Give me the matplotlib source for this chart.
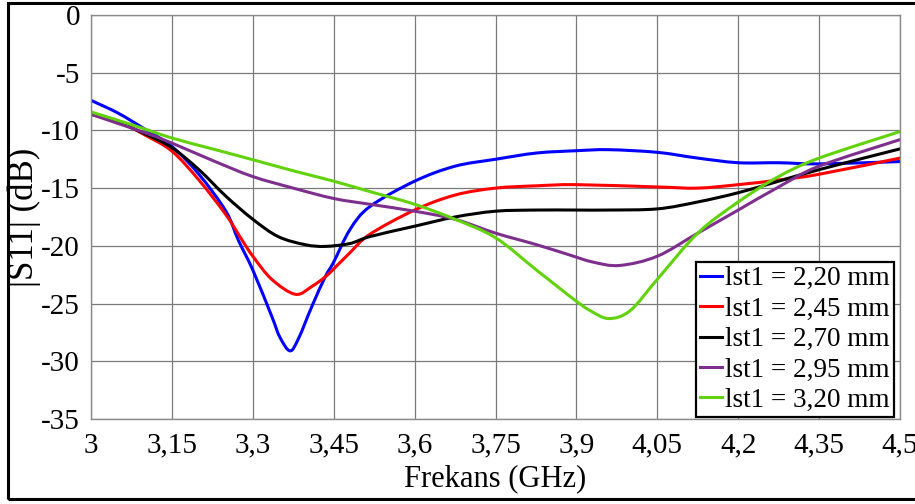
import matplotlib
matplotlib.use("Agg")
import matplotlib.pyplot as plt
from matplotlib.patches import Rectangle, PathPatch
from matplotlib.path import Path
from matplotlib.lines import Line2D

plt.rcParams['font.family'] = ['Liberation Serif', 'DejaVu Serif']

# S11 curves for each lst1 value (frequency in GHz, magnitude in dB)
f_220 = [3.0, 3.05, 3.1, 3.15, 3.2, 3.25, 3.273, 3.3, 3.335, 3.35, 3.369, 3.385,
         3.409, 3.434, 3.45, 3.48, 3.517, 3.6, 3.675, 3.75, 3.826, 3.9, 3.96,
         4.05, 4.125, 4.2, 4.275, 4.35, 4.5]
s_220 = [-7.4, -8.5, -9.9, -11.4, -13.8, -17.0, -19.5, -22.1, -26.1, -27.9, -29.1, -28.0,
         -25.3, -22.7, -21.4, -18.6, -16.6, -14.4, -13.1, -12.5, -11.96, -11.76, -11.67,
         -11.9, -12.4, -12.8, -12.8, -12.9, -12.7]

f_245 = [3.0, 3.05, 3.1, 3.15, 3.2, 3.25, 3.28, 3.3, 3.335, 3.379, 3.41, 3.434,
         3.45, 3.48, 3.517, 3.6, 3.675, 3.75, 3.826, 3.9, 4.05, 4.125, 4.2, 4.275,
         4.35, 4.5]
s_245 = [-8.5, -9.2, -10.4, -11.8, -14.3, -17.3, -19.5, -20.9, -22.9, -24.2, -23.5, -22.7,
         -22.0, -20.6, -19.0, -16.9, -15.6, -15.0, -14.8, -14.7, -14.9, -15.0, -14.7, -14.3,
         -13.8, -12.4]

f_270 = [3.0, 3.05, 3.1, 3.15, 3.2, 3.25, 3.3, 3.347, 3.397, 3.434, 3.48, 3.517,
         3.6, 3.675, 3.75, 3.826, 3.9, 3.96, 4.05, 4.125, 4.2, 4.275, 4.35, 4.5]
s_270 = [-8.6, -9.3, -10.3, -11.5, -13.4, -15.7, -17.7, -19.2, -19.9, -20.05, -19.8, -19.2,
         -18.3, -17.5, -17.0, -16.9, -16.9, -16.9, -16.8, -16.2, -15.4, -14.4, -13.4, -11.6]

f_295 = [3.0, 3.05, 3.1, 3.15, 3.225, 3.3, 3.375, 3.45, 3.517, 3.6, 3.675, 3.75,
         3.826, 3.888, 3.93, 3.98, 4.05, 4.125, 4.2, 4.275, 4.35, 4.5]
s_295 = [-8.6, -9.4, -10.2, -11.1, -12.6, -14.0, -15.0, -15.9, -16.4, -17.0, -17.7, -18.9,
         -19.9, -20.8, -21.4, -21.7, -20.9, -18.9, -16.9, -14.9, -13.1, -10.8]

f_320 = [3.0, 3.075, 3.15, 3.225, 3.3, 3.375, 3.45, 3.517, 3.6, 3.675, 3.75, 3.826,
         3.875, 3.9, 3.925, 3.96, 4.0, 4.05, 4.125, 4.2, 4.275, 4.35, 4.5]
s_320 = [-8.4, -9.5, -10.66, -11.6, -12.54, -13.5, -14.4, -15.3, -16.4, -17.7, -19.3, -22.1,
         -23.9, -24.8, -25.6, -26.3, -25.6, -22.9, -18.9, -16.2, -14.0, -12.4, -10.1]

labels = ['lst1 = 2,20 mm', 'lst1 = 2,45 mm', 'lst1 = 2,70 mm',
          'lst1 = 2,95 mm', 'lst1 = 3,20 mm']
colors = ['#0000ff', '#ff0000', '#000000', '#7e2f8e', '#62d20c']

x_ticks = [3.0, 3.15, 3.3, 3.45, 3.6, 3.75, 3.9, 4.05, 4.2, 4.35, 4.5]
x_ticklabels = ['3', '3,15', '3,3', '3,45', '3,6', '3,75', '3,9', '4,05', '4,2', '4,35', '4,5']
y_ticks = [0, -5, -10, -15, -20, -25, -30, -35]
y_ticklabels = ['0', '-5', '-10', '-15', '-20', '-25', '-30', '-35']


def smooth_path(xs, ys):
    # Catmull-Rom through the points, written as cubic Bezier segments
    pts = list(zip(xs, ys))
    verts = [pts[0]]
    codes = [Path.MOVETO]
    n = len(pts)
    for i in range(n - 1):
        p0 = pts[i - 1] if i > 0 else pts[i]
        p1 = pts[i]
        p2 = pts[i + 1]
        p3 = pts[i + 2] if i + 2 < n else pts[i + 1]
        c1 = (p1[0] + (p2[0] - p0[0]) / 6, p1[1] + (p2[1] - p0[1]) / 6)
        c2 = (p2[0] - (p3[0] - p1[0]) / 6, p2[1] - (p3[1] - p1[1]) / 6)
        verts += [c1, c2, p2]
        codes += [Path.CURVE4] * 3
    return Path(verts, codes)


fig = plt.figure(figsize=(9.15, 5.04), dpi=100)
ax = fig.add_axes([0.0995, 0.1687, 0.8841, 0.8016])

curves = [(f_220, s_220), (f_245, s_245), (f_270, s_270), (f_295, s_295), (f_320, s_320)]
handles = []
for (f, s), c, lab in zip(curves, colors, labels):
    ax.add_patch(PathPatch(smooth_path(f, s), facecolor='none', edgecolor=c,
                           lw=2.2, capstyle='round', joinstyle='round'))
    handles.append(Line2D([], [], color=c, lw=2.2, label=lab))

ax.set_xlim(3.0, 4.5)
ax.set_ylim(-35, 0)
ax.set_xticks(x_ticks)
ax.set_xticklabels(x_ticklabels)
ax.set_yticks(y_ticks)
ax.set_yticklabels(y_ticklabels)
ax.tick_params(length=0, labelsize=21)
ax.tick_params(axis='x', pad=10)
ax.tick_params(axis='y', pad=8)
ax.grid(True, color='#7a7a7a', lw=0.9)
ax.set_axisbelow(True)
for sp in ax.spines.values():
    sp.set_color('#8a8a8a')
    sp.set_linewidth(1.0)

ax.set_xlabel('Frekans (GHz)', fontsize=22, va='center')
ax.xaxis.set_label_coords(0.5, -0.148)
ax.set_ylabel('|S11| (dB)', fontsize=25, labelpad=0)

leg = ax.legend(handles=handles, loc='lower right', bbox_to_anchor=(0.992, 0.005),
                fontsize=19.5, frameon=True, fancybox=False, framealpha=1.0,
                edgecolor='black', handlelength=0.8, handletextpad=0.1,
                labelspacing=0.2, borderpad=0.15, borderaxespad=0.0)
leg.get_frame().set_linewidth(1.6)

# outer frame around the whole figure
fig.add_artist(Rectangle((7.5 / 915, 5 / 504), 1.05, 1 - 8 / 504, transform=fig.transFigure,
                         fill=False, edgecolor='black', lw=2.2, clip_on=False))

fig.savefig('out.png', dpi=100)
